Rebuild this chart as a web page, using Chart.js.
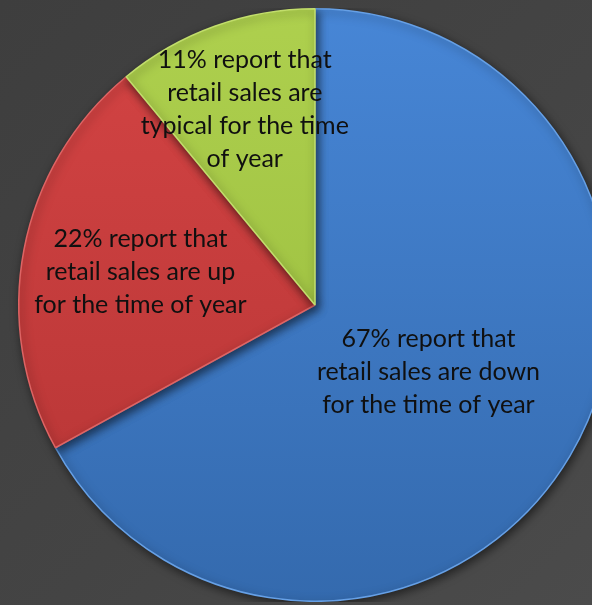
<!DOCTYPE html>
<html>

<head>
    <script src="https://cdn.jsdelivr.net/npm/chart.js@4.4.1/dist/chart.umd.min.js"></script>
    <style>
        html, body {
            margin: 0;
            width: 592px;
            height: 605px;
            overflow: hidden;
            background: linear-gradient(135deg, #3e3e3e 0%, #444444 55%, #4b4b4b 100%);
        }
        #wrap {
            position: absolute;
            left: 0;
            top: 8px;
            width: 630px;
            height: 594px;
        }
    </style>
</head>

<body>
    <div id="wrap">
        <canvas id="sales"></canvas>
    </div>

    <script>
        const categories = [
            ["67% report that", "retail sales are down", "for the time of year"],
            ["22% report that", "retail sales are up", "for the time of year"],
            ["11% report that", "retail sales are", "typical for the time", "of year"]
        ]
        const shares = [67, 22, 11]

        // light (top) and dark (bottom) shade of each slice
        const topColors = ["#4786d6", "#d44444", "#aed04e"]
        const bottomColors = ["#346aae", "#b43434", "#95b83a"]
        const edgeColors = ["#66a0e6", "#de6464", "#c2de6c"]

        // how far out along the slice's middle the text sits, as part of the radius
        const labelDepth = [0.445, 0.6, 0.7]

        function sliceFill(context) {
            const chart = context.chart
            const area = chart.chartArea
            if (!area) return topColors[context.dataIndex]
            const g = chart.ctx.createLinearGradient(0, area.top, 0, area.bottom)
            g.addColorStop(0, topColors[context.dataIndex])
            g.addColorStop(1, bottomColors[context.dataIndex])
            return g
        }

        const pieShadow = {
            id: 'pieShadow',
            beforeDatasetDraw(chart) {
                const ctx = chart.ctx
                ctx.save()
                ctx.shadowColor = 'rgba(0,0,0,0.55)'
                ctx.shadowBlur = 10
                ctx.shadowOffsetX = 2
                ctx.shadowOffsetY = 3
            },
            afterDatasetDraw(chart) {
                chart.ctx.restore()
            }
        }

        const sliceText = {
            id: 'sliceText',
            afterDatasetsDraw(chart) {
                const ctx = chart.ctx
                const arcs = chart.getDatasetMeta(0).data
                ctx.save()
                ctx.fillStyle = '#101010'
                ctx.font = '25px Lato, "Liberation Sans", sans-serif'
                ctx.textAlign = 'center'
                ctx.textBaseline = 'middle'
                const lineGap = 33
                arcs.forEach((arc, i) => {
                    const p = arc.getProps(['x', 'y', 'startAngle', 'endAngle', 'outerRadius'], true)
                    const mid = (p.startAngle + p.endAngle) / 2
                    const r = p.outerRadius * labelDepth[i]
                    const cx = p.x + Math.cos(mid) * r
                    const cy = p.y + Math.sin(mid) * r
                    const lines = categories[i]
                    lines.forEach((line, k) => {
                        ctx.fillText(line, cx, cy + (k - (lines.length - 1) / 2) * lineGap)
                    })
                })
                ctx.restore()
            }
        }

        new Chart(
            document.getElementById('sales'),
            {
                type: 'pie',
                data: {
                    labels: categories.map(l => l.join(' ')),
                    datasets: [{
                        data: shares,
                        backgroundColor: sliceFill,
                        borderColor: edgeColors,
                        borderWidth: 1.5
                    }]
                },
                options: {
                    responsive: true,
                    maintainAspectRatio: false,
                    animation: false,
                    layout: { padding: 0 },
                    plugins: {
                        legend: { display: false },
                        tooltip: { enabled: false }
                    }
                },
                plugins: [pieShadow, sliceText]
            }
        );
    </script>

</body>

</html>
